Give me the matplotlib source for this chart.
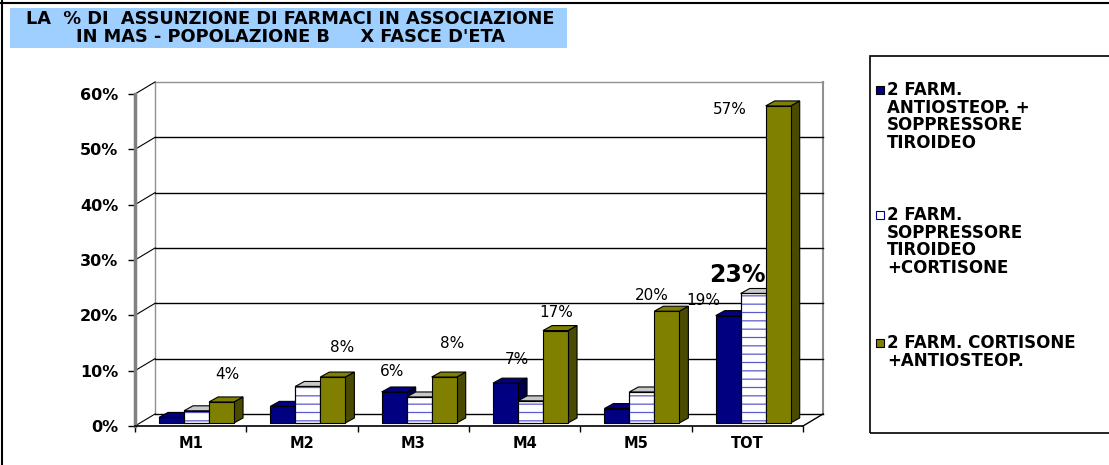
import matplotlib.pyplot as plt
import matplotlib.patches as patches
from matplotlib.lines import Line2D

plt.rcParams['font.family'] = ['DejaVu Sans']
plt.rcParams['hatch.linewidth'] = 0.9

categories = ['M1', 'M2', 'M3', 'M4', 'M5', 'TOT']
antiosteop_soppr = [1.0, 3.0, 5.6, 7.2, 2.6, 19.4]
soppr_cortisone = [2.2, 6.6, 4.7, 4.0, 5.6, 23.4]
cortisone_antiosteop = [3.8, 8.3, 8.3, 16.7, 20.2, 57.3]
series_names = ['2 FARM.\nANTIOSTEOP. +\nSOPPRESSORE\nTIROIDEO',
                '2 FARM.\nSOPPRESSORE\nTIROIDEO\n+CORTISONE',
                '2 FARM. CORTISONE\n+ANTIOSTEOP.']
yticks = [0, 10, 20, 30, 40, 50, 60]
title = "LA  % DI  ASSUNZIONE DI FARMACI IN ASSOCIAZIONE\nIN MAS - POPOLAZIONE B     X FASCE D'ETA"

# which bars carry a value label: (series, category)
shown = [(2, 0), (2, 1), (0, 2), (2, 2), (0, 3), (2, 3), (2, 4), (0, 5), (1, 5), (2, 5)]
# label offsets in pixels from top of bar
label_off = [(6, 27), (9, 30), (-2, 20), (8, 34), (11, 24), (1, 18), (-15, 16), (-25, 15), (-16, 18), (-48, -4)]

W, H = 1109, 465
fig = plt.figure(figsize=(W / 100, H / 100), dpi=100)

def fx(x):
    return x / W

def fy(y):
    return 1 - y / H

# outer frame (top and left only visible)
fig.add_artist(Line2D([0, 1], [fy(3.5), fy(3.5)], color='k', lw=1.5))
fig.add_artist(Line2D([fx(2), fx(2)], [0, 1], color='k', lw=1.5))

# title box
fig.add_artist(patches.Rectangle((fx(10), fy(48)), fx(557), 40 / H, facecolor='#9fcfff',
                                 edgecolor='none', transform=fig.transFigure))
fig.text(fx(290), fy(28), title, ha='center', va='center', fontsize=12.8, fontweight='bold',
         linespacing=1.0)

# plot area: front plane 0..6 -> 135..803 px, 0..60 % -> 426..94 px
ax = fig.add_axes([fx(135), fy(426), fx(803 - 135), (426 - 94) / H])
ax.set_xlim(0, 6)
ax.set_ylim(0, 60)
ax.set_facecolor('none')
for s in ['top', 'right']:
    ax.spines[s].set_visible(False)
ax.spines['left'].set_color('#808080')
ax.spines['left'].set_linewidth(2.5)
ax.spines['bottom'].set_linewidth(1.2)

ax.set_yticks(yticks)
ax.set_yticklabels([f'{v}%' for v in yticks], fontsize=11.5, fontweight='bold')
ax.tick_params(axis='y', direction='out', length=5, width=1, color='k', pad=7)
ax.set_xticks(range(7))
ax.set_xticklabels([''] * 7)
ax.tick_params(axis='x', which='major', direction='out', length=4, width=1)
ax.set_xticks([i + 0.5 for i in range(6)], minor=True)
ax.set_xticklabels(categories, minor=True, fontsize=10.5, fontweight='bold')
ax.tick_params(axis='x', which='minor', length=0, pad=7)

# 3D walls
DX, DY = 0.18, 2.17
gray = '#909090'
ax.plot([DX, DX], [DY, 60 + DY], color=gray, lw=1, clip_on=False)
ax.plot([DX, 6 + DX], [60 + DY, 60 + DY], color=gray, lw=1, clip_on=False)
ax.plot([6 + DX, 6 + DX], [DY, 60 + DY], color=gray, lw=1.5, clip_on=False)
for v in yticks[:-1]:
    ax.plot([DX, 6 + DX], [v + DY, v + DY], color='k', lw=1, clip_on=False)
for v in yticks:
    ax.plot([0, DX], [v, v + DY], color='k', lw=0.8, clip_on=False)
ax.plot([6, 6 + DX], [0, DY], color='k', lw=1, clip_on=False)

# bars
series = [antiosteop_soppr, soppr_cortisone, cortisone_antiosteop]
front = ['#000080', 'white', '#808000']
top = ['#000080', '#c8c8c8', '#808000']
side = ['#00004a', 'white', '#4a4a00']
x0, bw, y0 = 0.2156, 0.2246, 0.55
bdx, bdy = 0.081, 0.9
z = 3
for i in range(len(categories)):
    for j, vals in enumerate(series):
        x = i + x0 + j * bw
        h = vals[i]
        y1 = y0 + h
        hatch = '--' if j == 1 else None
        ax.bar(x, h, bw, bottom=y0, align='edge', color=front[j], edgecolor='k', lw=0.8,
               zorder=z)
        if hatch:
            ax.bar(x, h, bw, bottom=y0, align='edge', color='none', edgecolor='#5a5ad0',
                   hatch=hatch, lw=0, zorder=z + 0.1)
            ax.bar(x, h, bw, bottom=y0, align='edge', color='none', edgecolor='k', lw=0.8,
                   zorder=z + 0.2)
        tp = patches.Polygon([(x, y1), (x + bdx, y1 + bdy), (x + bw + bdx, y1 + bdy), (x + bw, y1)],
                             facecolor=top[j], edgecolor='k', lw=0.8, zorder=z, clip_on=False)
        sp = patches.Polygon([(x + bw, y0), (x + bw + bdx, y0 + bdy), (x + bw + bdx, y1 + bdy), (x + bw, y1)],
                             facecolor=side[j], edgecolor='k', lw=0.8, zorder=z - 0.5, clip_on=False)
        ax.add_patch(tp)
        ax.add_patch(sp)
        if hatch:
            sh = patches.Polygon(sp.get_xy(), facecolor='none', edgecolor='#5a5ad0', hatch=hatch,
                                 lw=0, zorder=z - 0.4, clip_on=False)
            ax.add_patch(sh)
        z += 1

# value labels
for (j, i), (ox, oy) in zip(shown, label_off):
    v = series[j][i]
    big = (j == 1)
    ax.annotate(f'{round(v)}%', (i + x0 + (j + 0.5) * bw, y0 + v), xytext=(ox, oy),
                textcoords='offset pixels', ha='center', va='center',
                fontsize=17 if big else 11, fontweight='bold' if big else 'normal',
                zorder=50, annotation_clip=False)

# legend box
fig.add_artist(patches.Rectangle((fx(870), fy(433)), fx(250), (433 - 56) / H, facecolor='none',
                                 edgecolor='k', lw=1.2, transform=fig.transFigure))
leg_y = [90, 215, 343]
for j, (name, yy) in enumerate(zip(series_names, leg_y)):
    fig.add_artist(patches.Rectangle((fx(876), fy(yy + 4)), fx(8), 8 / H,
                                     facecolor=front[j], edgecolor='k' if j != 1 else '#000080',
                                     lw=0.8, transform=fig.transFigure))
    fig.text(fx(887), fy(yy - 9), name, ha='left', va='top', fontsize=12, fontweight='bold',
             linespacing=0.98)

fig.savefig('out.png', dpi=100)
